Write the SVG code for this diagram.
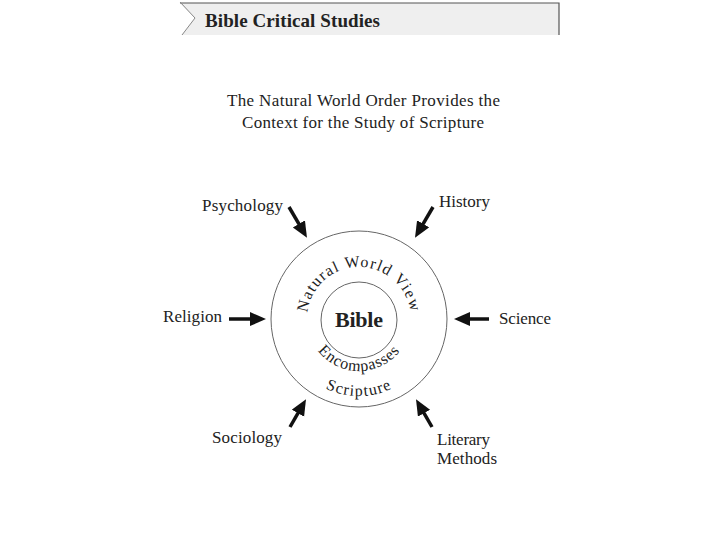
<svg xmlns="http://www.w3.org/2000/svg" width="720" height="540" viewBox="0 0 720 540">
<style>
  .t { font-family: "Liberation Serif", "Times New Roman", serif; fill: #222; }
  .lbl { font-size: 17px; }
  .ring { fill: none; stroke: #666; stroke-width: 1; }
  .shaft { stroke: #111; stroke-width: 3.5; fill: none; marker-end: url(#ah); }
  .arc { font-size: 16px; }
</style>
<defs>
  <marker id="ah" markerUnits="userSpaceOnUse" markerWidth="18" markerHeight="16" refX="2" refY="7" orient="auto">
    <path d="M0,0 L16,7 L0,14 z" fill="#111"/>
  </marker>
  <path id="pNWV" d="M 307,319 A 52 52 0 0 1 411,319"/>
  <path id="pEnc" d="M 307,319 A 52 52 0 0 0 411,319"/>
  <path id="pScr" d="M 282,319 A 77 77 0 0 0 436,319"/>
</defs>
<rect width="720" height="540" fill="#ffffff"/>

<g id="header">
  <polygon points="180,3 559,3 559,35 182,35 195,18" fill="#efefef"/>
  <polyline points="180,3 559,3 559,35" fill="none" stroke="#555" stroke-width="1.2"/>
  <polyline points="180,2 195,18 182,35" fill="none" stroke="#888" stroke-width="1"/>
  <text class="t" x="205" y="27" font-size="19" font-weight="bold" textLength="175" lengthAdjust="spacing">Bible Critical Studies</text>
</g>

<g id="title">
  <text class="t" x="227" y="106" font-size="17" textLength="273" lengthAdjust="spacing">The Natural World Order Provides the</text>
  <text class="t" x="242" y="128" font-size="17" textLength="242" lengthAdjust="spacing">Context for the Study of Scripture</text>
</g>

<g id="outer-circle">
  <circle class="ring" cx="359" cy="319" r="88"/>
  <text class="t arc" letter-spacing="1.2"><textPath href="#pNWV" startOffset="50%" text-anchor="middle">Natural World View</textPath></text>
  <text class="t arc" font-size="15" letter-spacing="0.8"><textPath href="#pEnc" startOffset="50%" text-anchor="middle">Encompasses</textPath></text>
  <text class="t arc" font-size="15" letter-spacing="1.2"><textPath href="#pScr" startOffset="50%" text-anchor="middle">Scripture</textPath></text>
</g>

<g id="bible">
  <circle class="ring" cx="359" cy="320" r="38"/>
  <text class="t" x="335" y="327" font-size="22" font-weight="bold" textLength="48" lengthAdjust="spacing">Bible</text>
</g>

<g id="psychology"><text class="t lbl" x="202" y="211" textLength="81" lengthAdjust="spacing">Psychology</text></g>
<g id="history"><text class="t lbl" x="439" y="207" textLength="51" lengthAdjust="spacing">History</text></g>
<g id="religion"><text class="t lbl" x="163" y="322" textLength="59" lengthAdjust="spacing">Religion</text></g>
<g id="science"><text class="t lbl" x="499" y="324" textLength="52" lengthAdjust="spacing">Science</text></g>
<g id="sociology"><text class="t lbl" x="212" y="443" textLength="70" lengthAdjust="spacing">Sociology</text></g>
<g id="literary-methods">
  <text class="t lbl" x="437" y="445" textLength="53" lengthAdjust="spacing">Literary</text>
  <text class="t lbl" x="437" y="464" textLength="60" lengthAdjust="spacing">Methods</text>
</g>

<g id="connectors">
  <line class="shaft" x1="289" y1="207" x2="299.9" y2="225.6"/>
  <line class="shaft" x1="433" y1="207" x2="422.1" y2="225.6"/>
  <line class="shaft" x1="229" y1="319" x2="252" y2="319"/>
  <line class="shaft" x1="489" y1="319" x2="468" y2="319"/>
  <line class="shaft" x1="290" y1="427" x2="299" y2="411.4"/>
  <line class="shaft" x1="432" y1="427" x2="423" y2="411.4"/>
</g>
</svg>
